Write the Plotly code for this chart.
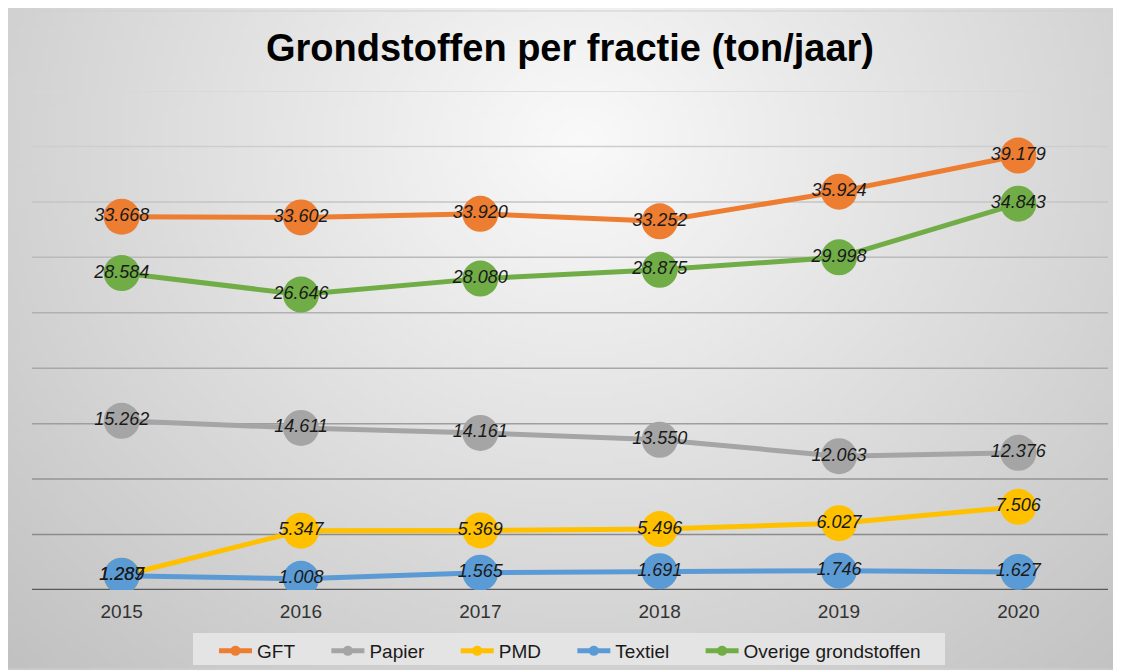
import base64, struct, zlib
import numpy as np
import plotly.graph_objects as go

years = ["2015", "2016", "2017", "2018", "2019", "2020"]
gft = [33668, 33602, 33920, 33252, 35924, 39179]
papier = [15262, 14611, 14161, 13550, 12063, 12376]
pmd = [1287, 5347, 5369, 5496, 6027, 7506]
textiel = [1289, 1008, 1565, 1691, 1746, 1627]
overige = [28584, 26646, 28080, 28875, 29998, 34843]

series = [
    ("GFT", gft, "#ED7D31"),
    ("Papier", papier, "#A5A5A5"),
    ("PMD", pmd, "#FFC000"),
    ("Textiel", textiel, "#5B9BD5"),
    ("Overige grondstoffen", overige, "#70AD47"),
]

def fmt(v):
    return f"{v:,}".replace(",", ".")

FONT = "Liberation Sans, Arial"
OFF = 8  # page body margin
REF_W, REF_H = 1121, 670
W, H = REF_W - OFF, REF_H - OFF

# --- gradient background as PNG data URI (in reference coordinates) ---
gw, gh = 224, 134
xs = np.linspace(0, REF_W, gw)
ys = np.linspace(0, REF_H, gh)
X, Y = np.meshgrid(xs, ys)
d = np.sqrt(((X - 580) / 580) ** 2 + ((Y - 140) / 520) ** 2)
img = np.clip(250 - 40 * d, 185, 250).astype(np.uint8)

def png_gray(arr):
    h, w = arr.shape
    raw = b"".join(b"\x00" + arr[i].tobytes() for i in range(h))
    def chunk(t, data):
        c = struct.pack(">I", len(data)) + t + data
        return c + struct.pack(">I", zlib.crc32(t + data) & 0xffffffff)
    return (b"\x89PNG\r\n\x1a\n" + chunk(b"IHDR", struct.pack(">IIBBBBB", w, h, 8, 0, 0, 0, 0))
            + chunk(b"IDAT", zlib.compress(raw, 9)) + chunk(b"IEND", b""))

uri = "data:image/png;base64," + base64.b64encode(png_gray(img)).decode()

# plot area in reference pixels: x 32..1108, y 91..590
ml = 32 - OFF
mr = REF_W - 1108
mt = 91 - OFF
mb = REF_H - 590
pw = W - ml - mr
ph = H - mt - mb

def px2x(p):
    return (p - OFF - ml) / pw
def py2y(p):
    return (H - mb - (p - OFF)) / ph

fig = go.Figure()
for name, vals, col in series:
    fig.add_trace(go.Scatter(
        x=years, y=vals, name=name, mode="lines+markers", showlegend=False,
        line=dict(color=col, width=5),
        marker=dict(color=col, size=36),
    ))
for name, vals, col in series:
    fig.add_trace(go.Scatter(
        x=years, y=vals, mode="text", showlegend=False,
        text=[fmt(v) for v in vals], textposition="middle center",
        textfont=dict(family=FONT, size=18, color="#1a1a1a", style="italic"),
        hoverinfo="skip",
    ))
# legend entries (small markers like the reference)
for name, vals, col in series:
    fig.add_trace(go.Scatter(
        x=[None], y=[None], name=name + "\u00a0\u00a0\u00a0\u00a0\u00a0", mode="lines+markers",
        line=dict(color=col, width=5), marker=dict(color=col, size=10),
    ))

shapes = []
grid_vals = [5000, 10000, 15000, 20000, 25000, 30000, 35000, 40000, 45000]
for i, gv in enumerate(grid_vals):
    t = i / (len(grid_vals) - 1)
    c = int(140 + t * 75)
    shapes.append(dict(type="line", xref="paper", yref="y", x0=0, x1=1, y0=gv, y1=gv,
                       line=dict(color=f"rgb({c},{c},{c})", width=1.5), layer="below"))
shapes.append(dict(type="line", xref="paper", yref="y", x0=0, x1=1, y0=0, y1=0,
                   line=dict(color="#595959", width=2.5), layer="below"))
shapes.append(dict(type="rect", xref="paper", yref="paper",
                   x0=px2x(7), x1=px2x(1120), y0=py2y(669), y1=py2y(11),
                   line=dict(color="#d0d0d0", width=1), layer="below"))
# legend background box
shapes.append(dict(type="rect", xref="paper", yref="paper",
                   x0=px2x(193), x1=px2x(945), y0=py2y(665), y1=py2y(633),
                   line=dict(width=0), fillcolor="#e4e4e4", layer="below"))

fig.update_layout(
    width=W, height=H,
    margin=dict(l=ml, r=mr, t=mt, b=mb, autoexpand=False),
    paper_bgcolor="white", plot_bgcolor="rgba(0,0,0,0)",
    title=dict(text="<b>Grondstoffen per fractie (ton/jaar)</b>",
               x=(570 - OFF) / W, xanchor="center", xref="container",
               y=1 - (48 - OFF) / H, yanchor="middle",
               font=dict(family=FONT, size=38, color="#000000")),
    images=[dict(source=uri, xref="paper", yref="paper", x=px2x(0), y=py2y(0),
                 sizex=REF_W / pw, sizey=REF_H / ph, sizing="stretch",
                 xanchor="left", yanchor="top", layer="below")],
    shapes=shapes,
    xaxis=dict(type="category", range=[-0.5, 5.5], showgrid=False, zeroline=False, showline=False,
               tickfont=dict(family=FONT, size=19, color="#333333"),
               ticks="", ticklabelstandoff=8),
    yaxis=dict(range=[0, 45000], showgrid=False, zeroline=False, showticklabels=False,
               showline=False),
    legend=dict(orientation="h", x=px2x(214), xanchor="left", y=py2y(632), yanchor="top",
                bgcolor="rgba(0,0,0,0)", font=dict(family=FONT, size=19, color="#1a1a1a"),
                itemwidth=33, tracegroupgap=0),
    showlegend=True,
)

fig.write_html("out.html")
